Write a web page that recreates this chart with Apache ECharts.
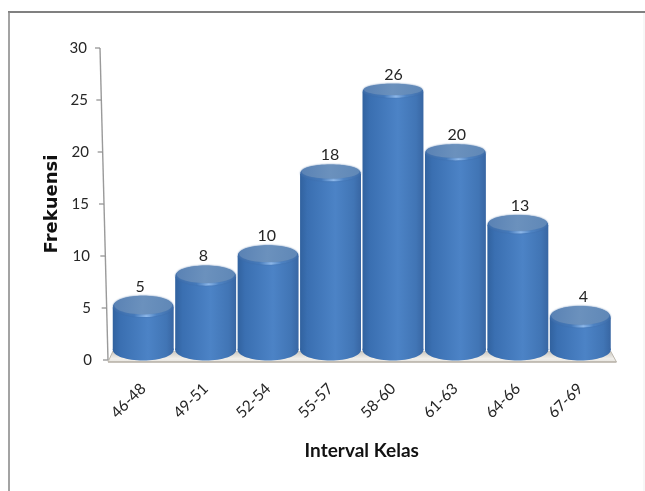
<!DOCTYPE html>
<html>
<head>
<meta charset="utf-8">
<style>
html,body{margin:0;padding:0;background:#fff}
#chart{width:645px;height:491px}
</style>
<script src="https://cdn.jsdelivr.net/npm/echarts@6/dist/echarts.min.js"></script>
</head>
<body>
<div id="chart"></div>
<script>
// Frequency distribution per class interval
const categories = ['46-48','49-51','52-54','55-57','58-60','61-63','64-66','67-69'];
const frequencies = [5, 8, 10, 18, 26, 20, 13, 4];
const yTicks = [0, 5, 10, 15, 20, 25, 30];
const xTitle = 'Interval Kelas';
const yTitle = 'Frekuensi';

const FONT = 'Lato, "Open Sans", sans-serif';
const AXIS_LEAN = 8;   // horizontal lean of the value axis between 0 and 30, px
const AXIS_MAX = 30;

const bodyFill = new echarts.graphic.LinearGradient(0, 0, 1, 0, [
  {offset: 0, color: '#31629f'},
  {offset: 0.12, color: '#3a6fb1'},
  {offset: 0.58, color: '#4c83c6'},
  {offset: 0.88, color: '#4175b5'},
  {offset: 1, color: '#3866a3'}
]);
const rimFill = new echarts.graphic.LinearGradient(0, 0, 1, 0, [
  {offset: 0, color: '#3a6aa8'},
  {offset: 0.35, color: '#4379bb'},
  {offset: 0.55, color: '#8fbaec'},
  {offset: 0.72, color: '#4d83c4'},
  {offset: 1, color: '#3c6ba8'}
]);
const capFill = new echarts.graphic.LinearGradient(0, 0, 1, 0.3, [
  {offset: 0, color: '#5a82b4'},
  {offset: 0.5, color: '#6b91bd'},
  {offset: 1, color: '#6088b7'}
]);

// One cylinder: body, rounded base, highlighted rim, lighter cap, value on top
function renderCylinder(params, api) {
  const i = api.value(0), v = api.value(1);
  const top = api.coord([i, v]);
  const base = api.coord([i, 0]);
  const w = api.size([1, 0])[0] - 1.5;
  const rx = w / 2;
  const ry = 10.6 - v * 0.17;          // the cap flattens as it nears eye level
  const cy = top[1] - 3.4 + v * 0.13;
  const baseY = base[1] - 10;
  const lift = (top[0] - 361) * 0.014; // value labels drift outward with perspective
  return {
    type: 'group',
    children: [
      {type: 'ellipse', shape: {cx: top[0], cy: baseY, rx: rx, ry: 10.5}, style: {fill: bodyFill}},
      {type: 'rect', shape: {x: top[0] - rx, y: cy + 2, width: w, height: baseY - cy - 2}, style: {fill: bodyFill}},
      {type: 'ellipse', shape: {cx: top[0], cy: cy + 1.4, rx: rx - 0.3, ry: ry + 0.6},
        style: {fill: rimFill, shadowBlur: 1.5, shadowColor: 'rgba(60,105,165,0.9)'}},
      {type: 'ellipse', shape: {cx: top[0], cy: cy - 0.2, rx: rx - 1.5, ry: ry - 0.5},
        style: {fill: capFill, shadowBlur: 2, shadowColor: 'rgba(85,125,175,0.9)'}},
      {type: 'text', style: {
        text: String(v), x: top[0] + lift, y: cy - ry - 1,
        align: 'center', verticalAlign: 'bottom',
        fontFamily: FONT, fontSize: 16, fill: '#262626'
      }}
    ]
  };
}

// Floor plane under the cylinders
function renderFloor(params, api) {
  const a = api.coord([0, 0]);
  const b = api.coord([categories.length - 1, 0]);
  const half = api.size([1, 0])[0] / 2;
  const l = a[0] - half, r = b[0] + half, y = a[1];
  return {
    type: 'group',
    children: [
      {type: 'polygon', shape: {points: [[l + 1, y - 9], [r - 1, y - 9], [r + 5, y + 2], [l - 4, y + 2]]},
        style: {fill: new echarts.graphic.LinearGradient(0, 0, 0, 1, [
          {offset: 0, color: '#c9c6bf'}, {offset: 0.7, color: '#f1efeb'}, {offset: 1, color: '#e6e3dd'}
        ])}},
      {type: 'line', shape: {x1: l - 4, y1: y + 2, x2: r + 5, y2: y + 2}, style: {stroke: '#b4aea4', lineWidth: 1.5}},
      {type: 'line', shape: {x1: r - 1, y1: y - 9, x2: r + 5, y2: y + 2}, style: {stroke: '#bdb8ae', lineWidth: 1}},
      {type: 'line', shape: {x1: l + 1, y1: y - 9, x2: l - 4, y2: y + 2}, style: {stroke: '#bdb8ae', lineWidth: 1}}
    ]
  };
}

// Leaning value axis: one segment and one tick per tick value
function renderAxis(params, api) {
  const v = api.value(0);
  const left = params.coordSys.x;
  const at = (val) => [left - 4 - AXIS_LEAN * val / AXIS_MAX, api.coord([0, val])[1]];
  const p = at(v);
  const children = [{type: 'line', shape: {x1: p[0] - 5, y1: p[1], x2: p[0], y2: p[1]}, style: {stroke: '#8c8c8c', lineWidth: 1.2}}];
  if (v < AXIS_MAX) {
    const q = at(v + 5);
    children.push({type: 'line', shape: {x1: p[0], y1: p[1], x2: q[0], y2: q[1]}, style: {stroke: '#9a9a9a', lineWidth: 1.4}});
  }
  return {type: 'group', children};
}

const richTicks = {};
yTicks.forEach(t => {
  richTicks['t' + t] = {
    fontFamily: FONT, fontSize: 15, color: '#262626',
    padding: [0, Math.round(5 * t / AXIS_MAX), 0, 0]
  };
});

const chart = echarts.init(document.getElementById('chart'), null, {renderer: 'canvas'});
chart.setOption({
  animation: false,
  backgroundColor: '#ffffff',
  graphic: [
    {type: 'line', shape: {x1: 8, y1: 12, x2: 645, y2: 12}, style: {stroke: '#808080', lineWidth: 2.2}},
    {type: 'line', shape: {x1: 9, y1: 12, x2: 9, y2: 491}, style: {stroke: '#8c8c8c', lineWidth: 1.6}},
    {type: 'line', shape: {x1: 644, y1: 13, x2: 644, y2: 491}, style: {stroke: '#efefef', lineWidth: 1}}
  ],
  grid: {left: 112, top: 48, width: 499.5, height: 312, containLabel: false},
  xAxis: {
    type: 'category', data: categories,
    name: xTitle, nameLocation: 'middle', nameGap: 81, nameMoveOverlap: false,
    nameTextStyle: {fontFamily: FONT, fontWeight: 'bold', fontSize: 19, color: '#111'},
    axisLine: {show: false}, axisTick: {show: false},
    axisLabel: {interval: 0, rotate: 45, margin: 26, fontFamily: FONT, fontSize: 15.5, color: '#262626'}
  },
  yAxis: {
    type: 'value', min: 0, max: AXIS_MAX, interval: 5,
    name: yTitle, nameLocation: 'middle', nameGap: 51, nameMoveOverlap: false,
    nameTextStyle: {fontFamily: '"DejaVu Sans", sans-serif', fontWeight: 'bold', fontSize: 18, color: '#111'},
    axisLine: {show: false}, axisTick: {show: false}, splitLine: {show: false},
    axisLabel: {margin: 20, formatter: v => '{t' + v + '|' + v + '}', rich: richTicks}
  },
  series: [
    {type: 'custom', silent: true, z: 1, renderItem: renderFloor, data: [[0, 0]], clip: false},
    {type: 'custom', silent: true, z: 2, renderItem: renderAxis, encode: {y: 0}, data: yTicks.map(t => [t]), clip: false},
    {type: 'custom', silent: true, z: 3, renderItem: renderCylinder, encode: {x: 0, y: 1},
      data: frequencies.map((f, i) => [i, f]), clip: false}
  ]
});
</script>
</body>
</html>
